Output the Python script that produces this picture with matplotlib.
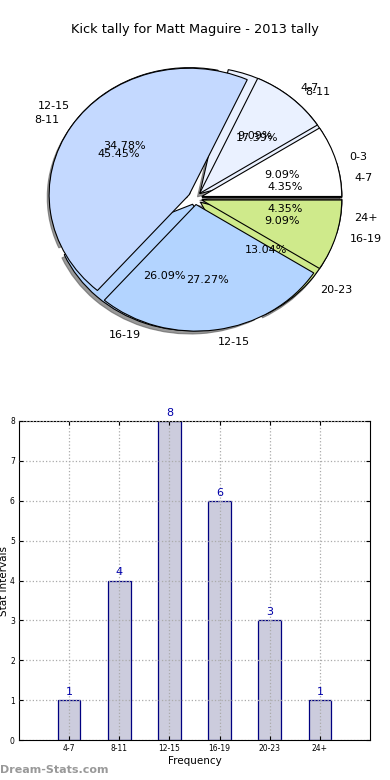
import numpy as np
from matplotlib import pyplot as plt

# data
pie1_labels = ['4-7', '8-11', '12-15', '16-19', '20-23', '24+']
pie1_values = [1, 4, 8, 6, 3, 1]

pie2_labels = ['0-3', '4-7', '8-11', '12-15', '16-19']
pie2_values = [1, 1, 5, 3, 1]

bar_labels = ['4-7', '8-11', '12-15', '16-19', '20-23', '24+']
bar_values = [1, 4, 8, 6, 3, 1]

slice_colors = ['#ffffff', '#eaf1ff', '#c4d9ff', '#b3d4ff', '#cfea8b', '#f4d6a8']

fig = plt.figure(figsize=(3.9, 7.8), dpi=100)

# pie part (two pies on top of each other)
ax1 = fig.add_axes([20/390, 423.5/780, 350/390, 316.5/780])
wp = dict(edgecolor='black', linewidth=0.8)
tp = dict(fontsize=8)
shadow = dict(ox=-0.012, oy=-0.018, facecolor='#555555', edgecolor='#555555',
              alpha=0.6)
ax1.pie(pie1_values, labels=pie1_labels, colors=slice_colors[:6],
        explode=[0.05]*6, autopct='%1.2f%%', shadow=shadow,
        wedgeprops=wp, textprops=tp, labeldistance=1.1, pctdistance=0.6)
ax1.pie(pie2_values, labels=pie2_labels, colors=slice_colors[:5],
        explode=[0.05]*5, autopct='%1.2f%%',
        wedgeprops=wp, textprops=tp, labeldistance=1.1, pctdistance=0.6)
ax1.set_aspect('auto')
ax1.set_xlim(-1.25, 1.25)
ax1.set_ylim(-1.25, 1.25)
fig.text(0.5, 1 - 30/780, 'Kick tally for Matt Maguire - 2013 tally',
         ha='center', va='center', fontsize=9.3)

# bar part
ax2 = fig.add_axes([19/390, 40/780, 351/390, 319/780])
x = np.arange(len(bar_labels))
ax2.bar(x, bar_values, width=0.45, color='#ccccdd', edgecolor='#000080',
        linewidth=0.9)
for xi, v in zip(x, bar_values):
    ax2.text(xi, v + 0.08, str(v), ha='center', va='bottom',
             fontsize=8, color='#0000aa')
ax2.set_xlim(-1, 6)
ax2.set_ylim(0, 8)
ax2.set_xticks(x)
ax2.set_xticklabels(bar_labels)
ax2.set_yticks(range(9))
ax2.tick_params(labelsize=5.5, direction='in', top=True, right=True,
                length=3, pad=3)
ax2.grid(True, linestyle=':', color='#aaaaaa', linewidth=0.9)
ax2.set_axisbelow(False)
ax2.set_xlabel('Frequency', fontsize=7.5, labelpad=2)
ax2.set_ylabel('Stat Intervals', fontsize=7.5, labelpad=1)

fig.text(0.0, 10/780, 'Dream-Stats.com', ha='left', va='center',
         fontsize=8, color='#999999', fontweight='bold')

plt.savefig('out.png', dpi=100)
